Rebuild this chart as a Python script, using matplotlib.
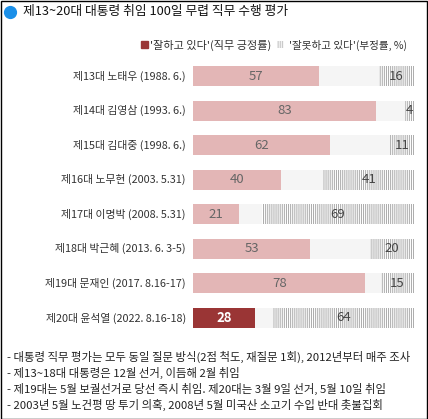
import matplotlib.pyplot as plt
import matplotlib.patches as mpatches
from matplotlib.lines import Line2D

plt.rcParams['font.family'] = ['Noto Sans CJK KR', 'DejaVu Sans']
plt.rcParams['hatch.linewidth'] = 0.7

# data
labels = ['제13대 노태우 (1988. 6.)', '제14대 김영삼 (1993. 6.)', '제15대 김대중 (1998. 6.)',
          '제16대 노무현 (2003. 5.31)', '제17대 이명박 (2008. 5.31)', '제18대 박근혜 (2013. 6. 3-5)',
          '제19대 문재인 (2017. 8.16-17)', '제20대 윤석열 (2022. 8.16-18)']
positive = [57, 83, 62, 40, 21, 53, 78, 28]
negative = [16, 4, 11, 41, 69, 20, 15, 64]
notes = ['- 대통령 직무 평가는 모두 동일 질문 방식(2점 척도, 재질문 1회), 2012년부터 매주 조사',
         '- 제13~18대 대통령은 12월 선거, 이듬해 2월 취임',
         '- 제19대는 5월 보궐선거로 당선 즉시 취임. 제20대는 3월 9일 선거, 5월 10일 취임',
         '- 2003년 5월 노건평 땅 투기 의혹, 2008년 5월 미국산 소고기 수입 반대 촛불집회']

W, H = 428, 419
fig = plt.figure(figsize=(W / 100, H / 100), dpi=100)
fig.patch.set_facecolor('white')

# axes: x=0 at px 193, x=100 at px 414
ax = fig.add_axes([193 / W, 1 - 335.25 / H, 221 / W, 276.5 / H])
ax.set_xlim(0, 100)
ax.set_ylim(len(labels) - 0.5, -0.5)
ax.axis('off')

bar_h = 0.58
pink = '#e3b6b6'
dark = '#9a3535'
for i, (p, n) in enumerate(zip(positive, negative)):
    # background (no opinion)
    ax.barh(i, 100, height=bar_h, color='#f5f5f5', linewidth=0)
    col = dark if i == len(labels) - 1 else pink
    ax.barh(i, p, height=bar_h, color=col, linewidth=0)
    ax.barh(i, n, left=100 - n, height=bar_h, facecolor='white', edgecolor='#aaaaaa',
            hatch='|' * 8, linewidth=0)
    if i == len(labels) - 1:
        ax.text(p / 2, i, str(p), ha='center', va='center', color='white',
                fontsize=9.5, fontweight='bold')
    else:
        ax.text(p / 2, i, str(p), ha='center', va='center', color='#666666', fontsize=9.5)
    ax.text(100 - n / 2, i, str(n), ha='center', va='center', color='#444444', fontsize=9.5)
    ax.text(-3.2, i, labels[i], ha='right', va='center', color='#333333', fontsize=7.8)

# title
fig.add_artist(Line2D([10 / W], [1 - 12 / H], marker='o', markersize=8.5,
                      color='#1a8fe8', transform=fig.transFigure))
fig.text(23 / W, 1 - 12 / H, '제13~20대 대통령 취임 100일 무렵 직무 수행 평가', ha='left',
         va='center', fontsize=9.2, color='#111111')

# legend
fig.add_artist(mpatches.Rectangle((141 / W, 1 - 48.5 / H), 7 / W, 7 / H, color=dark,
                                  transform=fig.transFigure))
fig.text(150 / W, 1 - 45 / H, "'잘하고 있다'(직무 긍정률)", ha='left', va='center',
         fontsize=8, color='#333333')
fig.add_artist(mpatches.Rectangle((277 / W, 1 - 48.5 / H), 7 / W, 7 / H, facecolor='white',
                                  edgecolor='#bbbbbb', hatch='|' * 8, linewidth=0,
                                  transform=fig.transFigure))
fig.text(289 / W, 1 - 45 / H, "'잘못하고 있다'(부정률, %)", ha='left', va='center',
         fontsize=7.6, color='#333333')

# notes
for k, line in enumerate(notes):
    fig.text(7 / W, 1 - (357 + 16 * k) / H, line, ha='left', va='center',
             fontsize=8.2, color='#222222')

# border
fig.add_artist(mpatches.Rectangle((0.5 / W, 0.5 / H), (W - 1.5) / W, (H - 1.5) / H,
                                  fill=False, edgecolor='black', linewidth=1,
                                  transform=fig.transFigure))

fig.savefig('out.png', dpi=100)
